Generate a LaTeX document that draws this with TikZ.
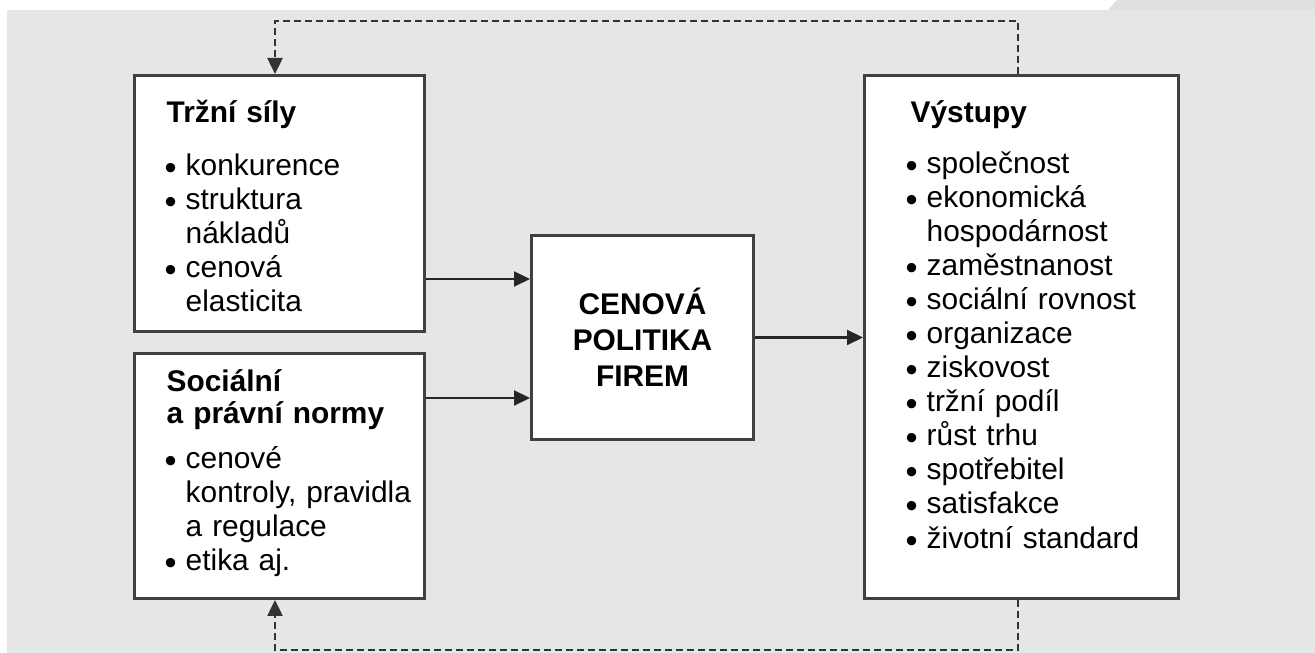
\documentclass[tikz,border=0pt]{standalone}
\usepackage{fontspec}
\setmainfont{Liberation Sans}
\usepackage{xcolor}
\usepackage{graphicx}
\usetikzlibrary{arrows.meta}

\definecolor{pozadi}{HTML}{E5E6E8}
\definecolor{zalozka}{HTML}{DFE1DF}

\newcommand{\bod}{\makebox[1.9mm][l]{\hspace*{-0.2mm}\raisebox{-0.4mm}{\scalebox{1.15}{\textbullet}}}}
\newcommand{\dal}{\makebox[1.9mm]{}}

\tikzset{
  box/.style={draw=black!75, line width=0.3mm, fill=white, rectangle, anchor=north west},
  obsah/.style={inner sep=0pt, anchor=base west, text width=2.65cm, align=left,
    font=\fontsize{8.5}{9.7}\selectfont},
  sipka/.style={draw=black!85, line width=0.22mm, -{Triangle[length=1.6mm,width=1.5mm]}},
  zpetna/.style={draw=black!80, line width=0.25mm, dash pattern=on 0.7mm off 0.4mm,
    -{Triangle[length=1.6mm,width=1.5mm]}}
}

\begin{document}
\begin{tikzpicture}
    \useasboundingbox (0,0) rectangle (13.15,-6.53);
    \fill[pozadi] (0.07,-0.10) rectangle (13.15,-6.53);
    \fill[zalozka] (11.08,-0.10) -- (11.17,0) -- (13.15,0) -- (13.15,-0.10) -- cycle;

    \node[box, minimum width=2.90cm, minimum height=2.56cm] (trzni) at (1.33,-0.74) {};
    \node[box, minimum width=2.90cm, minimum height=2.45cm] (socialni) at (1.33,-3.52) {};
    \node[box, minimum width=2.22cm, minimum height=2.04cm] (stred) at (5.30,-2.34) {};
    \node[box, minimum width=3.14cm, minimum height=5.23cm] (vystupy) at (8.63,-0.74) {};

    \node[obsah] (trzniText) at (1.66,-1.23) {\textbf{Tržní síly}\\[1.8mm]
      \bod konkurence\\
      \bod struktura\\
      \dal nákladů\\
      \bod cenová\\
      \dal elasticita};

    \node[obsah] (socialniText) at (1.66,-3.92) {\textbf{Sociální}\\[-0.3mm]
      \textbf{a právní normy}\\[1.1mm]
      \bod cenové\\
      \dal kontroly, pravidla\\
      \dal a regulace\\
      \bod etika aj.};

    \node[align=center, inner sep=0pt, font=\fontsize{8.5}{10.3}\selectfont\bfseries]
      (stredText) at (stred.center) {CENOVÁ\\POLITIKA\\FIREM};

    \node[obsah, text width=2.9cm] (vystupyText) at (9.07,-1.23) {\hspace*{0.3mm}\textbf{Výstupy}\\[1.6mm]
      \bod společnost\\
      \bod ekonomická\\
      \dal hospodárnost\\
      \bod zaměstnanost\\
      \bod sociální rovnost\\
      \bod organizace\\
      \bod ziskovost\\
      \bod tržní podíl\\
      \bod růst trhu\\
      \bod spotřebitel\\
      \bod satisfakce\\
      \bod životní standard};

    \draw[sipka] (trzni.east |- 0,-2.79) -- (stred.west |- 0,-2.79);
    \draw[sipka] (socialni.east |- 0,-3.98) -- (stred.west |- 0,-3.98);
    \draw[sipka] (stred.east) -- (vystupy.west |- stred.east);

    \coordinate (nahore) at (10.18,-0.21);
    \coordinate (dole) at (10.18,-6.50);
    \draw[zpetna] (vystupy.north -| nahore) -- (nahore) -| (trzni.north -| 2.75,0);
    \draw[zpetna] (vystupy.south -| dole) -- (dole) -| (socialni.south -| 2.75,0);
\end{tikzpicture}
\end{document}
